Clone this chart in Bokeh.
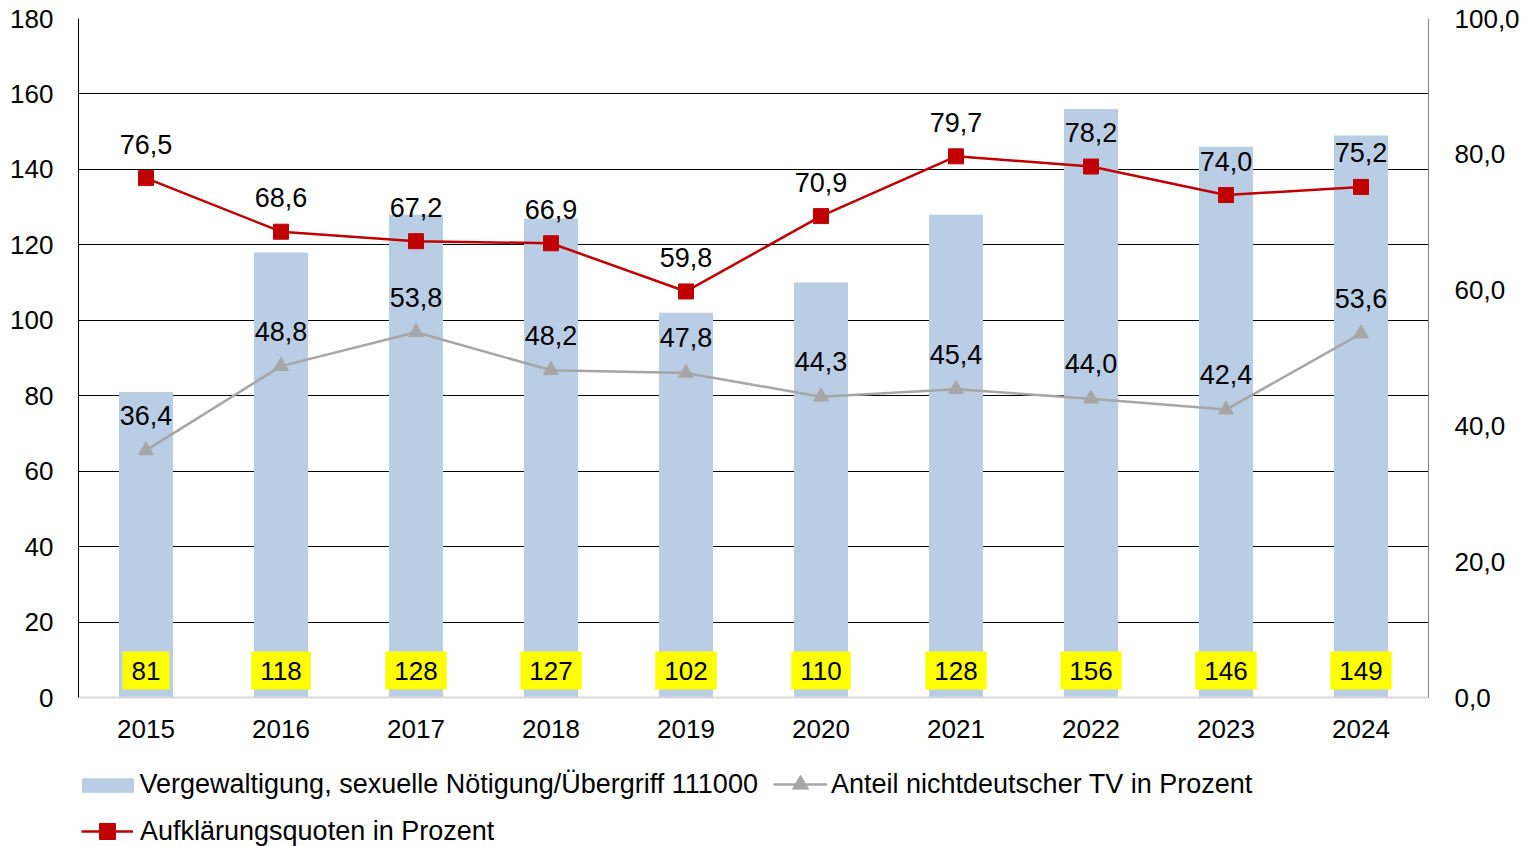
from bokeh.plotting import figure
from bokeh.layouts import column
from bokeh.models import (FactorRange, Range1d, LinearAxis, FixedTicker, ColumnDataSource,
                          Legend, LegendItem, CustomJSTickFormatter)
from bokeh.core.properties import value
from bokeh.embed import file_html
from bokeh.resources import INLINE

years = ["2015", "2016", "2017", "2018", "2019", "2020", "2021", "2022", "2023", "2024"]
cases = [81, 118, 128, 127, 102, 110, 128, 156, 146, 149]
clearance_rate = [76.5, 68.6, 67.2, 66.9, 59.8, 70.9, 79.7, 78.2, 74.0, 75.2]
foreign_share = [36.4, 48.8, 53.8, 48.2, 47.8, 44.3, 45.4, 44.0, 42.4, 53.6]
left_ticks = [0, 20, 40, 60, 80, 100, 120, 140, 160, 180]
right_ticks = [0, 20, 40, 60, 80, 100]

name_bars = "Vergewaltigung, sexuelle Nötigung/Übergriff 111000"
name_foreign = "Anteil nichtdeutscher TV in Prozent"
name_clear = "Aufklärungsquoten in Prozent"

FONT = "Liberation Sans"
FS = "26px"
FS_LBL = "27px"
BAR = "#B9CDE5"
RED = "#C00000"
GREY = "#A6A6A6"


def de(v):
    return f"{v:.1f}".replace(".", ",")


src = ColumnDataSource(dict(
    year=years,
    cases=cases,
    cases_label=[str(c) for c in cases],
    clear=clearance_rate,
    clear_label=[de(v) for v in clearance_rate],
    foreign=foreign_share,
    foreign_label=[de(v) for v in foreign_share],
))

p = figure(x_range=FactorRange(*years), y_range=Range1d(0, 180),
           width=1526, height=760, output_backend="svg", toolbar_location=None,
           min_border_left=78, min_border_right=98, min_border_top=18, min_border_bottom=63)
p.extra_y_ranges = {"right": Range1d(0, 100)}
p.outline_line_color = None
p.background_fill_color = "white"
p.border_fill_color = "white"

# axes
xa = p.xaxis[0]
xa.axis_line_color = "#D9D9D9"
xa.axis_line_width = 2
xa.major_tick_line_color = None
xa.minor_tick_line_color = None
xa.major_label_text_font = FONT
xa.major_label_text_font_size = FS
xa.major_label_text_color = "black"
xa.major_label_standoff = 16

ya = p.yaxis[0]
ya.ticker = FixedTicker(ticks=left_ticks)
ya.axis_line_color = "black"
ya.major_tick_line_color = None
ya.minor_tick_line_color = None
ya.major_tick_out = 0
ya.major_label_text_font = FONT
ya.major_label_text_font_size = FS
ya.major_label_text_color = "black"
ya.major_label_standoff = 25

ra = LinearAxis(y_range_name="right", ticker=FixedTicker(ticks=right_ticks),
                formatter=CustomJSTickFormatter(code="return tick.toFixed(1).replace('.', ',');"))
ra.axis_line_color = "#868686"
ra.major_tick_line_color = None
ra.minor_tick_line_color = None
ra.major_tick_out = 0
ra.major_label_text_font = FONT
ra.major_label_text_font_size = FS
ra.major_label_text_color = "black"
ra.major_label_standoff = 26
p.add_layout(ra, "right")

p.xgrid.grid_line_color = None
p.ygrid.ticker = FixedTicker(ticks=left_ticks[1:])
p.ygrid.grid_line_color = "black"
p.ygrid.grid_line_width = 1

# bars
bars = p.vbar(x="year", top="cases", width=0.4, source=src, fill_color=BAR, line_color=None)

# lines
p.line(x="year", y="foreign", source=src, y_range_name="right", line_color=GREY, line_width=2.5)
p.scatter(x="year", y="foreign", source=src, y_range_name="right", marker="triangle",
          size=15, fill_color=GREY, line_color=GREY)
p.line(x="year", y="clear", source=src, y_range_name="right", line_color=RED, line_width=2.5)
p.scatter(x="year", y="clear", source=src, y_range_name="right", marker="square",
          size=15, fill_color=RED, line_color=RED)

# data labels
p.text(x="year", y="foreign", text="foreign_label", source=src, y_range_name="right",
       y_offset=-35, text_align="center", text_baseline="middle",
       text_font=value(FONT), text_font_size=FS_LBL, text_color="black")
p.text(x="year", y="clear", text="clear_label", source=src, y_range_name="right",
       y_offset=-34, text_align="center", text_baseline="middle",
       text_font=value(FONT), text_font_size=FS_LBL, text_color="black")
p.text(x="year", y=0, text="cases_label", source=src,
       y_offset=-27, text_align="center", text_baseline="middle",
       text_font=value(FONT), text_font_size=FS, text_color="black",
       background_fill_color="#FFFF00", padding=(9, 10))

# legend strip (own figure below the chart; swatches use the series' styles)
lp = figure(width=1526, height=86, output_backend="svg", toolbar_location=None,
            x_range=Range1d(0, 1), y_range=Range1d(0, 1), x_axis_type=None, y_axis_type=None,
            min_border=0, min_border_left=0, min_border_right=0, min_border_top=0, min_border_bottom=0)
lp.outline_line_color = None
lp.background_fill_color = "white"
lp.border_fill_color = "white"
nan = float("nan")
blank = ColumnDataSource(dict(x=[nan], y=[nan]))
k_bar = lp.vbar(x="x", top="y", width=0.1, source=blank, fill_color=BAR, line_color=None)
k_gl = lp.line(x="x", y="y", source=blank, line_color=GREY, line_width=2.5)
k_gm = lp.scatter(x="x", y="y", source=blank, marker="triangle", size=16, fill_color=GREY, line_color=GREY)
k_rl = lp.line(x="x", y="y", source=blank, line_color=RED, line_width=2.5)
k_rm = lp.scatter(x="x", y="y", source=blank, marker="square", size=16, fill_color=RED, line_color=RED)

common = dict(orientation="horizontal", padding=0, margin=0, spacing=0,
              label_text_font=FONT, label_text_font_size=FS_LBL, label_text_color="black",
              background_fill_alpha=0, border_line_color=None)
leg_bar = Legend(items=[LegendItem(label=name_bars, renderers=[k_bar])],
                 location=(-3.5, 46), glyph_width=65, glyph_height=18, label_standoff=0, **common)
leg_grey = Legend(items=[LegendItem(label=name_foreign, renderers=[k_gl, k_gm])],
                  location=(695, 42), glyph_width=54, glyph_height=40, label_standoff=4, **common)
leg_red = Legend(items=[LegendItem(label=name_clear, renderers=[k_rl, k_rm])],
                 location=(3, -5), glyph_width=52, glyph_height=40, label_standoff=7, **common)
lp.add_layout(leg_bar, "center")
lp.add_layout(leg_grey, "center")
lp.add_layout(leg_red, "center")

layout = column(p, lp, spacing=0)
open("out.html", "w").write(file_html(layout, INLINE))
